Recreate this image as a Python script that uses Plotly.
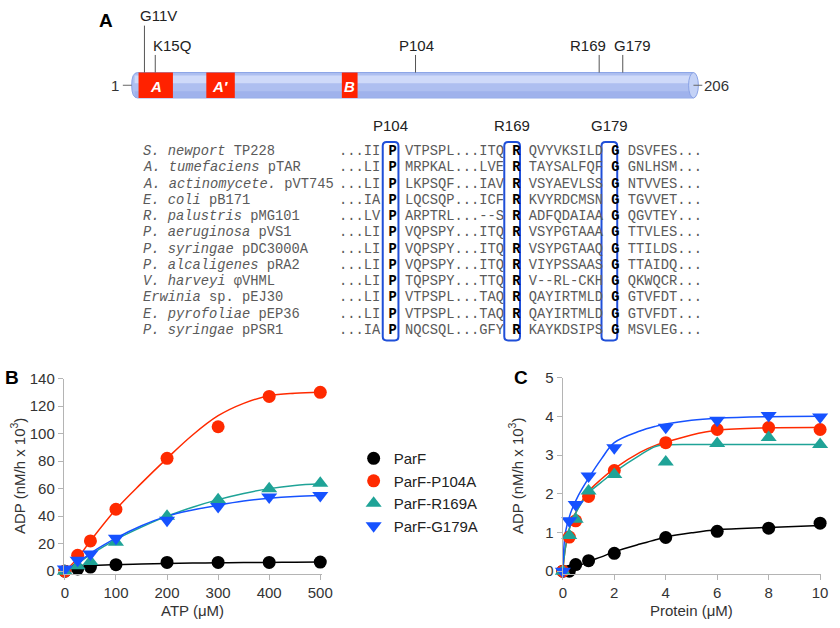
import plotly.graph_objects as go

W, H = 840, 628

# ---------------- data ----------------
# Panel B: ATPase vs ATP
atp = [0, 25, 50, 100, 200, 300, 400, 500]
b_parf = [0, 1.6, 3.0, 4.7, 6.4, 6.4, 6.4, 6.6]
b_p104a = [0, 11.5, 22, 45, 82, 105, 127, 130]
b_r169a = [0, 4, 7, 21, 40, 52, 60, 64]
b_g179a = [1.5, 8, 12.5, 24, 37, 47, 54, 55]
# fitted curves
atp_fit = [0, 25, 50, 100, 150, 200, 250, 300, 350, 400, 450, 500]
b_fit_parf = [3.0, 3.5, 4.0, 4.8, 5.2, 5.6, 5.9, 6.1, 6.3, 6.4, 6.5, 6.6]
b_fit_p104a = [0, 9.5, 22, 45, 64, 82, 99, 113, 122, 127.5, 129.3, 130]
b_fit_r169a = [0, 5.5, 12, 23, 32, 40, 46.5, 52, 56.5, 60, 62.3, 63.5]
b_fit_g179a = [0, 6, 13, 24, 33, 40, 44.5, 48, 51, 53, 54.3, 55]

# Panel C: ATPase vs protein
prot = [0, 0.25, 0.5, 1, 2, 4, 6, 8, 10]
c_parf = [0, 0.0, 0.17, 0.27, 0.46, 0.87, 1.03, 1.11, 1.24]
c_p104a = [0, 0.88, 1.3, 1.93, 2.6, 3.32, 3.66, 3.71, 3.66]
c_r169a = [0, 0.92, 1.34, 2.07, 2.5, 2.82, 3.3, 3.45, 3.27]
c_g179a = [0, 1.3, 1.72, 2.46, 3.19, 3.72, 3.9, 4.02, 3.98]
prot_fit = [0, 0.1, 0.3, 0.6, 1, 1.5, 2, 3, 3.6, 4, 5, 6, 8, 10]
c_fit_parf = [0, 0.02, 0.06, 0.13, 0.25, 0.37, 0.5, 0.7, 0.81, 0.88, 0.99, 1.07, 1.13, 1.18]
c_fit_p104a = [0, 0.6, 1.2, 1.64, 2.06, 2.38, 2.65, 3.07, 3.25, 3.33, 3.52, 3.64, 3.7, 3.71]
c_fit_r169a = [0, 0.6, 1.2, 1.62, 2.02, 2.3, 2.56, 3.0, 3.22, 3.26, 3.27, 3.27, 3.27, 3.27]
c_fit_g179a = [0, 1.0, 1.5, 1.95, 2.4, 2.9, 3.32, 3.62, 3.74, 3.8, 3.9, 3.95, 3.99, 4.0]

series_names = ["ParF", "ParF-P104A", "ParF-R169A", "ParF-G179A"]
series_colors = ["#000000", "#ff2a00", "#1fa397", "#1652ff"]
series_symbols = ["circle", "circle", "triangle-up", "triangle-down"]

b_y_ticks = [0, 20, 40, 60, 80, 100, 120, 140]
b_x_ticks = [0, 100, 200, 300, 400, 500]
c_y_ticks = [0, 1, 2, 3, 4, 5]
c_x_ticks = [0, 2, 4, 6, 8, 10]

# Panel A: alignment
species_italic = ["S. newport", "A. tumefaciens", "A. actinomycete.", "E. coli",
                  "R. palustris", "P. aeruginosa", "P. syringae", "P. alcaligenes",
                  "V. harveyi", "Erwinia", "E. pyrofoliae", "P. syringae"]
species_plain = ["TP228", "pTAR", "pVT745", "pB171", "pMG101", "pVS1", "pDC3000A",
                 "pRA2", "φVHML", "sp. pEJ30", "pEP36", "pPSR1"]
seq_a = ["...II", "...LI", "...LI", "...IA", "...LV", "...LI", "...LI", "...LI",
         "...LI", "...LI", "...LI", "...IA"]
seq_b = ["VTPSPL...ITQ", "MRPKAL...LVE", "LKPSQF...IAV", "LQCSQP...ICF",
         "ARPTRL...--S", "VQPSPY...ITQ", "VQPSPY...ITQ", "VQPSPY...ITQ",
         "TQPSPY...TTQ", "VTPSPL...TAQ", "VTPSPL...TAQ", "NQCSQL...GFY"]
seq_c = ["QVYVKSILD", "TAYSALFQF", "VSYAEVLSS", "KVYRDCMSN", "ADFQDAIAA",
         "VSYPGTAAA", "VSYPGTAAQ", "VIYPSSAAS", "V--RL-CKH", "QAYIRTMLD",
         "QAYIRTMLD", "KAYKDSIPS"]
seq_d = ["DSVFES...", "GNLHSM...", "NTVVES...", "TGVVET...", "QGVTEY...",
         "TTVLES...", "TTILDS...", "TTAIDQ...", "QKWQCR...", "GTVFDT...",
         "GTVFDT...", "MSVLEG..."]
conserved = ["P", "R", "G"]
conserved_labels = ["P104", "R169", "G179"]
mutations = ["G11V", "K15Q", "P104", "R169", "G179"]
motifs = ["A", "A′", "B"]


def px(x):
    return x / W


def py(y):
    return 1 - y / H


fig = go.Figure()

# ---------- panel B & C traces ----------
b_marks = [b_parf, b_p104a, b_r169a, b_g179a]
b_fits = [b_fit_parf, b_fit_p104a, b_fit_r169a, b_fit_g179a]
c_marks = [c_parf, c_p104a, c_r169a, c_g179a]
c_fits = [c_fit_parf, c_fit_p104a, c_fit_r169a, c_fit_g179a]

for i in range(4):
    fig.add_trace(go.Scatter(x=atp_fit, y=b_fits[i], mode="lines", line_shape="spline",
                             line=dict(color=series_colors[i], width=1.5),
                             showlegend=False, hoverinfo="skip", xaxis="x", yaxis="y"))
    fig.add_trace(go.Scatter(x=prot_fit, y=c_fits[i], mode="lines", line_shape="spline",
                             line=dict(color=series_colors[i], width=1.5),
                             showlegend=False, hoverinfo="skip", xaxis="x2", yaxis="y2"))
for i in range(4):
    fig.add_trace(go.Scatter(x=atp, y=b_marks[i], mode="markers", name=series_names[i],
                             marker=dict(color=series_colors[i], symbol=series_symbols[i],
                                         size=13 if i < 2 else 14, line=dict(width=0)),
                             cliponaxis=False, legendgroup=series_names[i],
                             xaxis="x", yaxis="y"))
    fig.add_trace(go.Scatter(x=prot, y=c_marks[i], mode="markers", name=series_names[i],
                             marker=dict(color=series_colors[i], symbol=series_symbols[i],
                                         size=13 if i < 2 else 14, line=dict(width=0)),
                             cliponaxis=False, legendgroup=series_names[i], showlegend=False,
                             xaxis="x2", yaxis="y2"))

axis_common = dict(showline=True, linecolor="#b4b4b4", linewidth=1.3, ticks="outside",
                   ticklen=5, tickcolor="#b4b4b4", tickwidth=1.3, showgrid=False,
                   zeroline=False, tickfont=dict(family="Liberation Sans", size=15, color="#333"))

fig.update_layout(
    width=W, height=H, margin=dict(l=0, r=0, t=0, b=0),
    paper_bgcolor="white", plot_bgcolor="white",
    xaxis=dict(domain=[px(61), px(324)], range=[-1.9, 503.8], tickvals=b_x_ticks,
               anchor="y", **axis_common),
    yaxis=dict(domain=[py(578), py(378)], range=[-2.13, 140], tickvals=b_y_ticks,
               anchor="x", **axis_common),
    xaxis2=dict(domain=[px(569), px(832)], range=[0, 10.04], tickvals=c_x_ticks,
                anchor="y2", **axis_common),
    yaxis2=dict(domain=[py(578), py(377)], range=[-0.076, 5], tickvals=c_y_ticks,
                anchor="x2", **axis_common),
    legend=dict(x=px(356), y=py(443), xanchor="left", yanchor="top",
                font=dict(family="Liberation Sans", size=15, color="#222"),
                bgcolor="rgba(0,0,0,0)", tracegroupgap=0, itemsizing="trace"),
    showlegend=True,
)

shapes = []
ann = []

# ---------- panel A: protein cartoon ----------
bar_l, bar_r, bar_t, bar_b = 130, 702, 65, 91
mid = (bar_t + bar_b) / 2
body = (f"M {px(bar_l+6)},{py(bar_t)} L {px(bar_r)},{py(bar_t)} L {px(bar_r)},{py(bar_b)} "
        f"L {px(bar_l+6)},{py(bar_b)} Q {px(bar_l)},{py(bar_b)} {px(bar_l)},{py(mid)} "
        f"Q {px(bar_l)},{py(bar_t)} {px(bar_l+6)},{py(bar_t)} Z")
shapes.append(dict(type="path", path=body, xref="paper", yref="paper",
                   fillcolor="#aebff0", line=dict(color="#8aa3e6", width=1)))
shapes.append(dict(type="rect", xref="paper", yref="paper", x0=px(bar_l+3), x1=px(bar_r),
                   y0=py(68), y1=py(76), fillcolor="#d3ddf9", line=dict(width=0), opacity=0.9))
shapes.append(dict(type="rect", xref="paper", yref="paper", x0=px(bar_l+3), x1=px(bar_r),
                   y0=py(84), y1=py(90), fillcolor="#98ade9", line=dict(width=0), opacity=0.7))
shapes.append(dict(type="circle", xref="paper", yref="paper", x0=px(bar_r-5), x1=px(bar_r+5),
                   y0=py(bar_t), y1=py(bar_b), fillcolor="#c4d2f6", line=dict(color="#8aa3e6", width=1)))
# end dashes
shapes.append(dict(type="line", xref="paper", yref="paper", x0=px(121), x1=px(bar_l),
                   y0=py(mid), y1=py(mid), line=dict(color="#666", width=1)))
shapes.append(dict(type="line", xref="paper", yref="paper", x0=px(bar_r), x1=px(bar_r+9),
                   y0=py(mid), y1=py(mid), line=dict(color="#666", width=1)))
ann.append(dict(x=px(119), y=py(mid), text="1", xanchor="right", yanchor="middle",
                font=dict(family="Liberation Sans", size=15, color="#333")))
ann.append(dict(x=px(711), y=py(mid), text="206", xanchor="left", yanchor="middle",
                font=dict(family="Liberation Sans", size=15, color="#333")))

motif_x = [(137, 172), (206, 235), (344, 360)]
for (x0, x1), lab in zip(motif_x, motifs):
    shapes.append(dict(type="rect", xref="paper", yref="paper", x0=px(x0), x1=px(x1),
                       y0=py(bar_b), y1=py(bar_t), fillcolor="#ff2200", line=dict(width=0)))
    ann.append(dict(x=px((x0 + x1) / 2), y=py(mid + 1), text=f"<b><i>{lab}</i></b>",
                    xanchor="center", yanchor="middle",
                    font=dict(family="Liberation Sans", size=15, color="white")))

mut_line_x = [143, 154, 419, 606, 630]
mut_line_top = [17, 47, 47, 47, 47]
mut_text_x = [157, 171, 420, 595, 640]
mut_text_y = [7, 37, 37, 37, 37]
for lab, lx, lt, tx, ty in zip(mutations, mut_line_x, mut_line_top, mut_text_x, mut_text_y):
    shapes.append(dict(type="line", xref="paper", yref="paper", x0=px(lx), x1=px(lx),
                       y0=py(lt), y1=py(bar_t), line=dict(color="#555", width=1)))
    ann.append(dict(x=px(tx), y=py(ty), text=lab, xanchor="center", yanchor="middle",
                    font=dict(family="Liberation Sans", size=15, color="#222")))

# ---------- alignment ----------
mono = "Liberation Mono"
fs = 13.75
cw = fs * 0.6
row0, dy = 146, 16.6
seq_x = 340
for i in range(len(species_italic)):
    y = row0 + i * dy
    ann.append(dict(x=px(139), y=py(y), text=f"<i>{species_italic[i]}</i> {species_plain[i]}",
                    xanchor="left", yanchor="middle", align="left",
                    font=dict(family=mono, size=fs, color="#5a5a5a")))
    txt = (f"{seq_a[i]} <span style='color:#000'><b>{conserved[0]}</b></span> {seq_b[i]} "
           f"<span style='color:#000'><b>{conserved[1]}</b></span> {seq_c[i]} "
           f"<span style='color:#000'><b>{conserved[2]}</b></span> {seq_d[i]}")
    ann.append(dict(x=px(seq_x - 1), y=py(y), text=txt, xanchor="left", yanchor="middle",
                    align="left", font=dict(family=mono, size=fs, color="#5a5a5a")))

col_idx = [6, 21, 33]
box_top, box_bot = 136, 339
r = 4
for ci, lab in zip(col_idx, conserved_labels):
    cx = seq_x + ci * cw + cw / 2
    x0, x1 = cx - 8, cx + 8
    p = (f"M {px(x0+r)},{py(box_top)} L {px(x1-r)},{py(box_top)} "
         f"Q {px(x1)},{py(box_top)} {px(x1)},{py(box_top+r)} L {px(x1)},{py(box_bot-r)} "
         f"Q {px(x1)},{py(box_bot)} {px(x1-r)},{py(box_bot)} L {px(x0+r)},{py(box_bot)} "
         f"Q {px(x0)},{py(box_bot)} {px(x0)},{py(box_bot-r)} L {px(x0)},{py(box_top+r)} "
         f"Q {px(x0)},{py(box_top)} {px(x0+r)},{py(box_top)} Z")
    shapes.append(dict(type="path", path=p, xref="paper", yref="paper",
                       line=dict(color="#1f4fd8", width=2), fillcolor="rgba(0,0,0,0)"))
    ann.append(dict(x=px(cx), y=py(119), text=lab, xanchor="center", yanchor="middle",
                    font=dict(family="Liberation Sans", size=15, color="#222")))

# ---------- panel letters and axis titles ----------
for lab, x, y in [("A", 104, 12), ("B", 8, 377), ("C", 526, 377)]:
    ann.append(dict(x=px(x), y=py(y), text=f"<b>{lab}</b>", xanchor="center", yanchor="middle",
                    font=dict(family="Liberation Sans", size=19, color="#000")))

title_font = dict(family="Liberation Sans", size=15, color="#333")
ann.append(dict(x=px(192), y=py(615), text="ATP (μM)", xanchor="center", yanchor="middle",
                font=title_font))
ann.append(dict(x=px(700), y=py(615), text="Protein (μM)", xanchor="center", yanchor="middle",
                font=title_font))
for x in (14, 521):
    ann.append(dict(x=px(x), y=py(478), text="ADP (nM/h x 10<sup>3</sup>)", textangle=-90,
                    xanchor="center", yanchor="middle", font=title_font))

for a in ann:
    a.setdefault("xref", "paper")
    a.setdefault("yref", "paper")
    a["showarrow"] = False

fig.update_layout(shapes=shapes, annotations=ann)
fig.write_html("out.html", post_script="document.body.style.margin='0px';",
               config={"displayModeBar": False})
